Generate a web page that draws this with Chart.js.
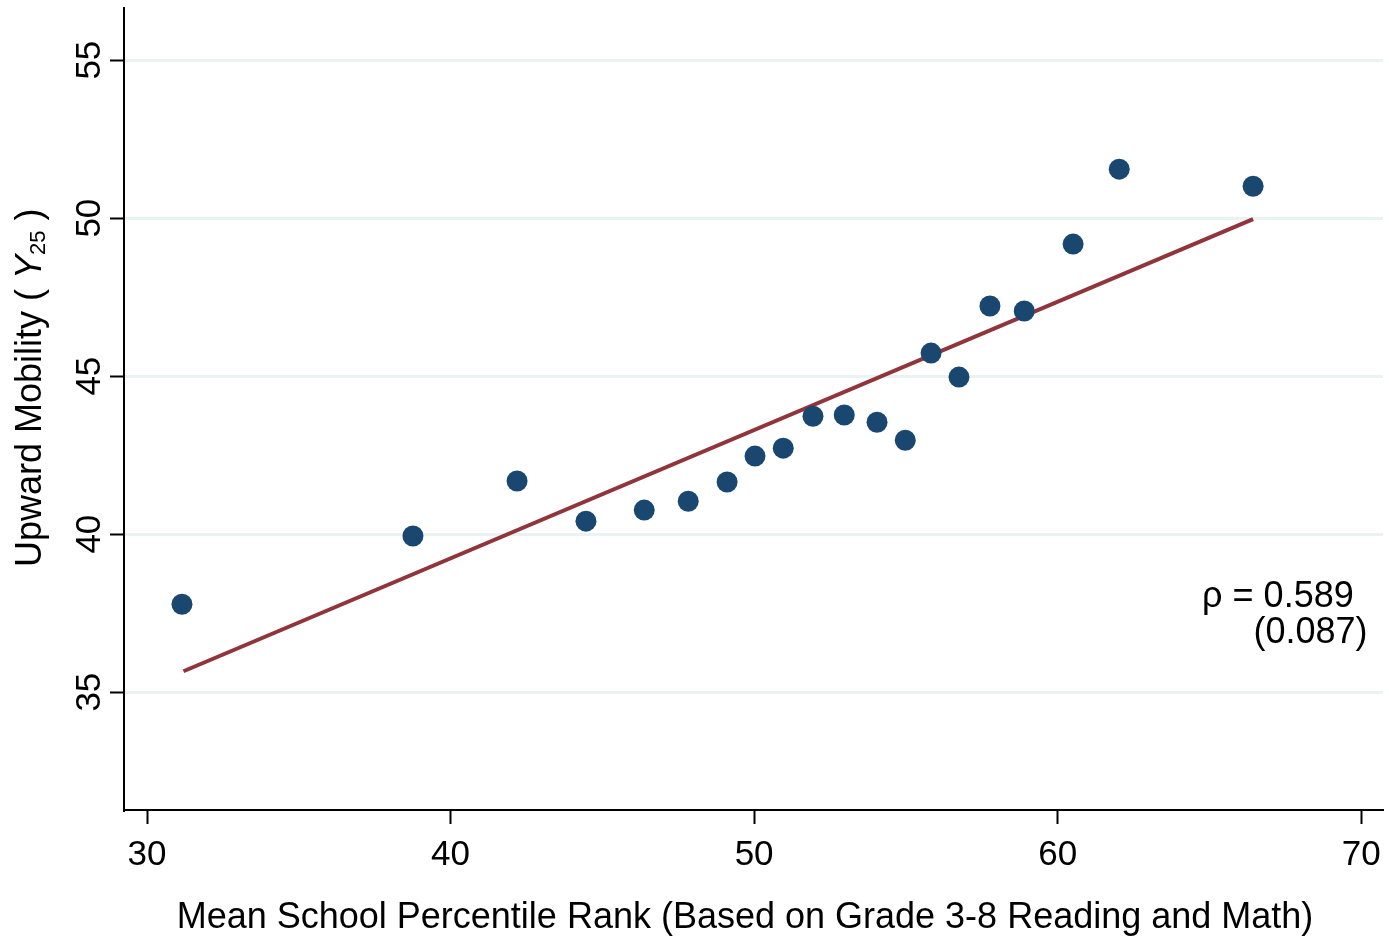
<!DOCTYPE html>
<html>
<head>
<meta charset="utf-8">
<script src="https://cdn.jsdelivr.net/npm/chart.js@4.4.1/dist/chart.umd.min.js"></script>
<style>
  html, body { margin: 0; padding: 0; background: #ffffff; }
  #wrap { width: 1389px; height: 937px; }
</style>
</head>
<body>
<div id="wrap"><canvas id="chart" width="1389" height="937"></canvas></div>
<script>
// Binned scatter: mean school percentile rank vs. upward mobility (Y25)
const schoolRank = [31.15, 38.76, 42.19, 44.46, 46.38, 47.83, 49.11, 50.03, 50.96, 51.94,
                    52.97, 54.05, 54.98, 55.83, 56.75, 57.77, 58.90, 60.51, 62.03, 66.44];
const mobility   = [37.78, 39.94, 41.68, 40.41, 40.76, 41.04, 41.65, 42.47, 42.72, 43.73,
                    43.77, 43.54, 42.97, 45.73, 44.97, 47.22, 47.06, 49.18, 51.55, 51.01];

// Fitted line endpoints
const fitX = [31.20, 66.44];
const fitY = [35.66, 49.97];

// Axis ticks
const xTicks = [30, 40, 50, 60, 70];
const yTicks = [35, 40, 45, 50, 55];

// Correlation note
const noteLines = ['\u03C1 = 0.589', '(0.087)'];
const noteX = [64.76, 66.45];
const noteY = [37.69, 36.55];

const xTitle = 'Mean School Percentile Rank (Based on Grade 3-8 Reading and Math)';

const FONT = '"Liberation Sans", Arial, Helvetica, sans-serif';
const NAVY = '#1a476f';
const MAROON = '#90353b';

// Axis titles: the y title mixes an italic Y with a subscript
const titlePlugin = {
  id: 'axisTitles',
  afterDraw(chart) {
    const ctx = chart.ctx;
    ctx.save();
    ctx.fillStyle = '#000';
    ctx.textBaseline = 'alphabetic';

    ctx.font = '36px ' + FONT;
    ctx.textAlign = 'center';
    ctx.fillText(xTitle, 745, 928);

    ctx.translate(41, 567);
    ctx.rotate(-Math.PI / 2);
    ctx.textAlign = 'left';
    let x = 0;
    const parts = [
      { t: 'Upward Mobility ( ', f: '36px ' + FONT, dy: 0 },
      { t: 'Y', f: 'italic 36px ' + FONT, dy: 0 },
      { t: '25', f: '22px ' + FONT, dy: 4 },
      { t: ' )', f: '36px ' + FONT, dy: 0 }
    ];
    for (const p of parts) {
      ctx.font = p.f;
      ctx.fillText(p.t, x, p.dy);
      x += ctx.measureText(p.t).width;
    }
    ctx.restore();
  }
};

const notePlugin = {
  id: 'note',
  afterDatasetsDraw(chart) {
    const ctx = chart.ctx;
    const xs = chart.scales.x, ys = chart.scales.y;
    ctx.save();
    ctx.fillStyle = '#000';
    ctx.font = '36px ' + FONT;
    ctx.textAlign = 'left';
    ctx.textBaseline = 'alphabetic';
    noteLines.forEach((s, i) => {
      ctx.fillText(s, xs.getPixelForValue(noteX[i]), ys.getPixelForValue(noteY[i]));
    });
    ctx.restore();
  }
};

new Chart(document.getElementById('chart'), {
  type: 'scatter',
  data: {
    datasets: [
      {
        label: 'Bins',
        data: schoolRank.map((v, i) => ({ x: v, y: mobility[i] })),
        backgroundColor: NAVY,
        borderWidth: 0,
        pointRadius: 10.5,
        pointHoverRadius: 10.5,
        order: 0
      },
      {
        label: 'Fit',
        type: 'line',
        data: fitX.map((v, i) => ({ x: v, y: fitY[i] })),
        borderColor: MAROON,
        borderWidth: 4,
        pointRadius: 0,
        fill: false,
        order: 1
      }
    ]
  },
  options: {
    responsive: false,
    animation: false,
    devicePixelRatio: 1,
    layout: { autoPadding: false, padding: { top: 8, right: 6, left: 0, bottom: 0 } },
    plugins: { legend: { display: false }, tooltip: { enabled: false } },
    scales: {
      x: {
        type: 'linear',
        position: 'bottom',
        min: 29.24,
        max: 70.72,
        afterBuildTicks: s => { s.ticks = xTicks.map(v => ({ value: v })); },
        afterFit: s => { s.height = 127; s.paddingLeft = 0; s.paddingRight = 0; },
        grid: { drawOnChartArea: false, drawTicks: true, tickLength: 14, tickColor: '#000', tickWidth: 2 },
        border: { display: true, color: '#000', width: 2 },
        ticks: { color: '#000', font: { family: FONT, size: 35 }, padding: 10, maxRotation: 0 }
      },
      y: {
        type: 'linear',
        position: 'left',
        min: 31.27,
        max: 56.65,
        afterBuildTicks: s => { s.ticks = yTicks.map(v => ({ value: v })); },
        afterFit: s => { s.width = 124; s.paddingTop = 0; s.paddingBottom = 0; },
        grid: { color: '#eaf2f3', lineWidth: 3, drawTicks: true, tickLength: 14, tickColor: '#000', tickWidth: 2 },
        border: { display: true, color: '#000', width: 2 },
        ticks: { color: '#000', font: { family: FONT, size: 35 }, padding: 0,
                 minRotation: 90, maxRotation: 90, crossAlign: 'center' }
      }
    }
  },
  plugins: [titlePlugin, notePlugin]
});
</script>
</body>
</html>
